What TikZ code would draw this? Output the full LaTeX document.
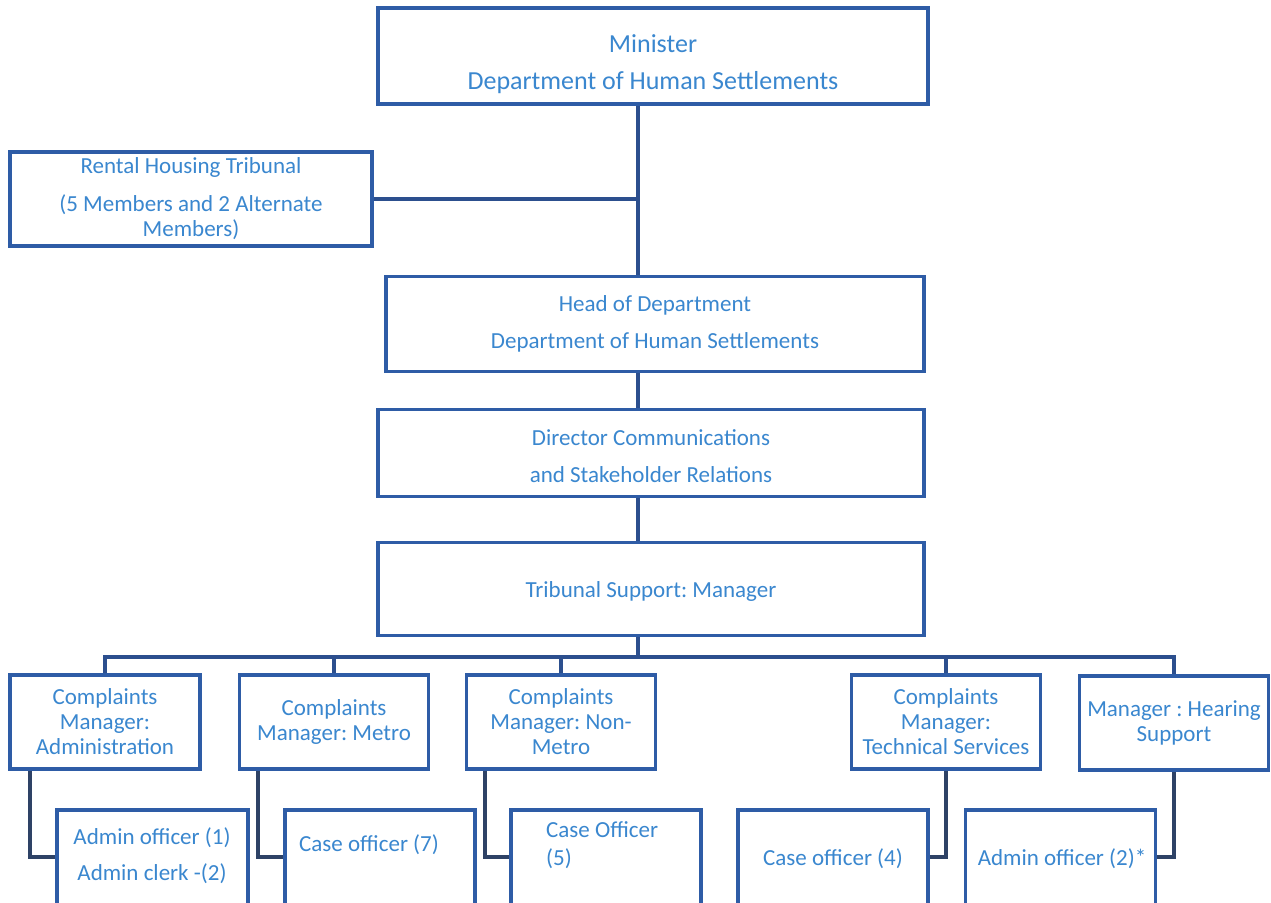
\documentclass[tikz,border=0pt]{standalone}
\usepackage{fontspec}
\setmainfont{Carlito}
\usepackage{xcolor}
\definecolor{orgframe}{HTML}{2E5CA6}
\definecolor{orgtext}{HTML}{3A87CF}
\definecolor{orgline}{HTML}{2C4F8E}
\definecolor{orgleg}{HTML}{2E4266}
\usetikzlibrary{positioning,calc}
\frenchspacing

\begin{document}
\begin{tikzpicture}[
  x=1pt, y=-1pt,
  every node/.style={font=\fontsize{23}{25}\selectfont, text=orgtext},
  post/.style={rectangle, draw=orgframe, line width=3.8pt, fill=white, align=center, inner sep=2pt},
  toppost/.style={post, minimum width=546pt, minimum height=#1},
  unitpost/.style={post, minimum width=189pt, minimum height=94pt},
  staffpost/.style={post, minimum width=190pt, minimum height=100pt, anchor=north},
  tag/.style={inner sep=0pt},
  link/.style={line width=3.8pt, orgline},
  leg/.style={line width=4pt, orgleg},
]
  \useasboundingbox (0,0) rectangle (1271,902);
  \fill[white] (0,0) rectangle (1271,902);
  \clip (0,0) rectangle (1271,902);

  % upper chain
  \node[toppost=96pt, minimum width=550pt, font=\fontsize{26}{28}\selectfont] (minister) at (653,56)
    {\rule{0pt}{35pt}Minister\\[9pt]Department of Human Settlements};
  \node[post, minimum width=362pt, minimum height=94pt] (tribunal) at (191,199)
    {Rental Housing Tribunal\\[13pt](5 Members and 2 Alternate\\Members)};
  \node[toppost=95pt, minimum width=538pt] (head) at (655,324)
    {Head of Department\\[12pt]Department of Human Settlements};
  \node[toppost=87pt] (director) at (651,453)
    {\rule{0pt}{23pt}Director Communications\\[12pt]and Stakeholder Relations};
  \node[toppost=93pt] (manager) at (651,589) {\rule{0pt}{21pt}Tribunal Support: Manager};

  \coordinate (spine) at (638,0);
  \coordinate (bus) at (0,657);
  \draw[link] (minister.south -| spine) -- (head.north -| spine);
  \draw[link] (tribunal.east) -- (tribunal.east -| spine);
  \draw[link] (head.south -| spine) -- (director.north -| spine);
  \draw[link] (director.south -| spine) -- (manager.north -| spine);

  % managers under the tribunal support manager
  \node[unitpost, minimum width=190pt] (cmadmin) at (105,722) {Complaints\\Manager:\\Administration};
  \node[unitpost] (cmmetro)    at (334,722)  {Complaints\\Manager: Metro};
  \node[unitpost] (cmnonmetro) at (561,722)  {Complaints\\Manager: Non-\\Metro};
  \node[unitpost] (cmtech)     at (946,722)  {Complaints\\Manager:\\Technical Services};
  \node[unitpost] (mhearing)   at (1174,723) {Manager : Hearing\\Support};

  \draw[link] (cmadmin.north) -- (cmadmin.north |- bus) -| (mhearing.north);
  \foreach \u in {cmmetro,cmnonmetro,cmtech}
    \draw[link] (\u.north) -- (\u.north |- bus);
  \draw[link] (manager.south -| spine) -- (spine |- bus);

  % staff posts (cut off at the page foot)
  \node[staffpost, minimum width=191pt] (adminoff) at (152.5,808) {};
  \node[staffpost] (caseseven) at (380,808)  {};
  \node[staffpost] (casefive)  at (606,808)  {};
  \node[staffpost] (casefour)  at (833,808)  {};
  \node[staffpost] (adminstar) at (1060.5,808) {};

  \node[tag, anchor=base] (adminofftxt) at (152,844) {Admin officer (1)};
  \node[tag, anchor=base] (adminclerktxt) at (152,880) {Admin clerk -(2)};
  \node[tag, anchor=base] (casesevtxt) at (369,851) {Case officer (7)};
  \node[tag, anchor=base west] (casefivetxt) at (546,837) {Case Officer};
  \node[tag, anchor=base west] (casefivenum) at (546,865) {(5)};
  \node[tag, anchor=base] (casefourtxt) at (833,865) {Case officer (4)};
  \node[tag, anchor=base] (adminstartxt) at (1062,865) {Admin officer (2)*};

  \draw[leg] ([xshift=22pt]cmadmin.south west) |- ([yshift=3pt]adminoff.west);
  \draw[leg] ([xshift=20pt]cmmetro.south west) |- ([yshift=3pt]caseseven.west);
  \draw[leg] ([xshift=20pt]cmnonmetro.south west) |- ([yshift=3pt]casefive.west);
  \draw[leg] (cmtech.south) |- ([yshift=3pt]casefour.east);
  \draw[leg] (mhearing.south) |- ([yshift=3pt]adminstar.east);
\end{tikzpicture}
\end{document}
